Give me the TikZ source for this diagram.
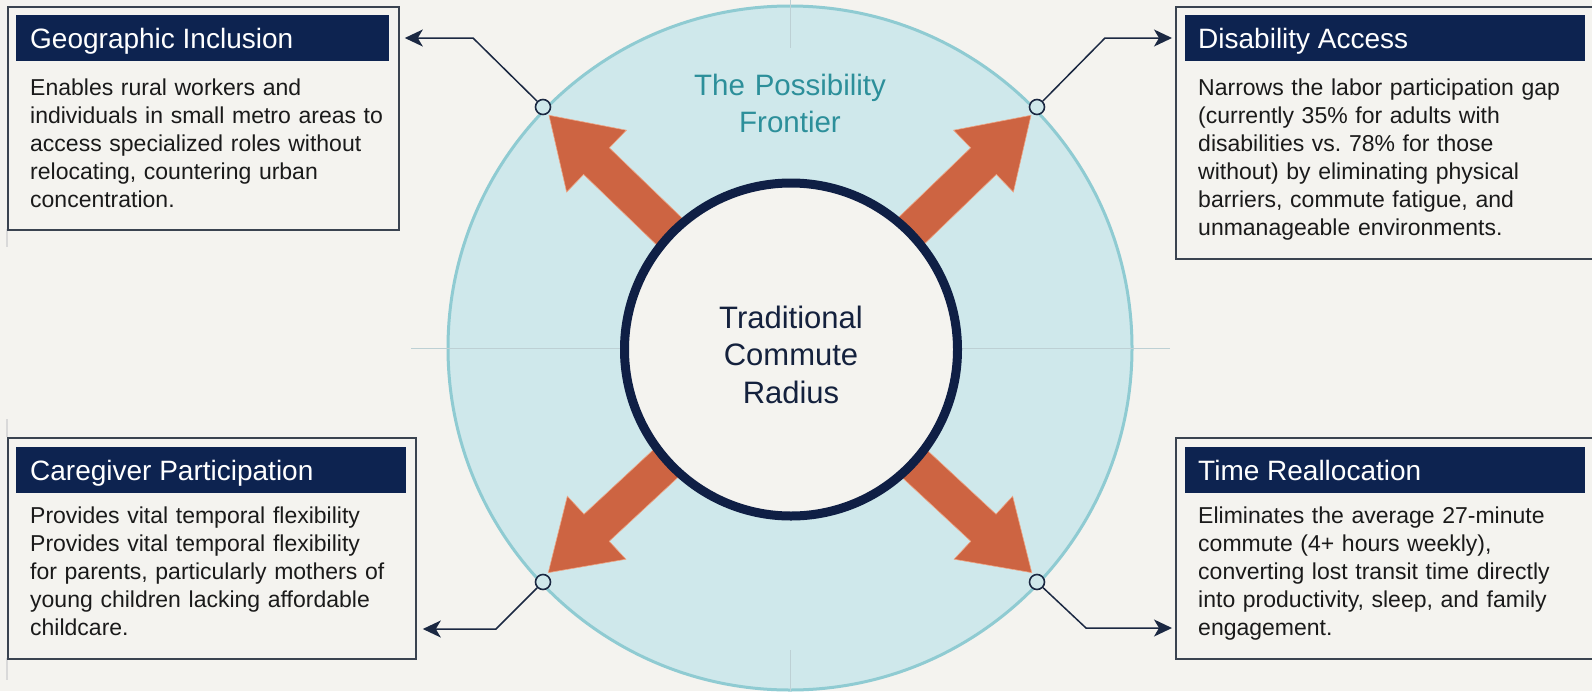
\documentclass[tikz,border=0pt]{standalone}
\usepackage{fontspec}
\setmainfont{Liberation Sans}
\usetikzlibrary{arrows.meta,calc}
\frenchspacing

\definecolor{bgpaper}{HTML}{F4F3EF}
\definecolor{frontierfill}{HTML}{CFE8EB}
\definecolor{frontierline}{HTML}{8FCBD2}
\definecolor{navy}{HTML}{0D2350}
\definecolor{ringnavy}{HTML}{0F1F45}
\definecolor{rust}{HTML}{CD6442}
\definecolor{rustedge}{HTML}{EDA585}
\definecolor{tealtext}{HTML}{2C8F9A}
\definecolor{framegray}{HTML}{3A4350}
\definecolor{guide}{HTML}{BDD0D4}
\definecolor{bodyink}{HTML}{1A1A1A}
\definecolor{linkink}{HTML}{1B2842}
\definecolor{coreink}{HTML}{14213D}

\tikzset{
  panel/.style={draw=framegray, line width=1.8pt, fill=bgpaper, inner sep=0pt, anchor=north west},
  headbar/.style={fill=navy, inner sep=0pt, anchor=north west},
  headtext/.style={text=white, font=\fontsize{28}{30}\selectfont, anchor=base west, inner sep=0pt},
  bodytext/.style={text=bodyink, font=\fontsize{23}{28}\selectfont, anchor=base west,
    inner sep=0pt, align=left, text width=385pt},
  link/.style={draw=linkink, line width=1.5pt, -{Stealth[length=18pt,width=17pt,inset=5pt]}},
  joint/.style={circle, draw=linkink, fill=frontierfill, line width=1.6pt,
    minimum size=15pt, inner sep=0pt},
  thrust/.style={fill=rust, draw=rustedge, line width=0.6pt, line join=miter},
  guideline/.style={draw=guide, line width=1pt},
  edgetick/.style={draw=black!15, line width=1.4pt},
}

\begin{document}
\begin{tikzpicture}[x=1pt,y=-1pt]
  % page
  \fill[bgpaper] (0,0) rectangle (1592,691);
  \useasboundingbox (0,0) rectangle (1592,691);

  % faint ticks continuing the left frame edges
  \draw[edgetick] (7,229) -- (7,247);
  \draw[edgetick] (7,419) -- (7,437);
  \draw[edgetick] (7,658) -- (7,680);

  % outer disc: the possibility frontier
  \node[circle, minimum size=684pt, inner sep=0pt, draw=frontierline, fill=frontierfill,
        line width=3pt] (frontier) at (790,348) {};

  % cross guides
  \draw[guideline] (411,348) -- (1170,348);
  \draw[guideline] (790,0) -- (790,48);
  \draw[guideline] (790,650) -- (790,691);

  % four outward block arrows
  \foreach \ang/\len in {136/335, 44/335, 222.9/330, 317.1/330} {
    \begin{scope}[shift={(790,348)}, rotate=\ang]
      \filldraw[thrust] (150,18.5) -- (\len-66,18.5) -- (\len-66,43) -- (\len,0)
        -- (\len-66,-43) -- (\len-66,-18.5) -- (150,-18.5) -- cycle;
    \end{scope}
  }

  % inner ring: traditional commute radius
  \node[circle, minimum size=333pt, inner sep=0pt, draw=ringnavy, fill=bgpaper,
        line width=9pt] (core) at (791,349.5) {};
  \node[anchor=base, inner sep=0pt, align=center, text width=240pt, text=coreink,
        font=\fontsize{31}{37.5}\selectfont] (coreLabel) at (791,328)
        {Traditional\\Commute\\Radius};

  % frontier title
  \node[anchor=base, inner sep=0pt, align=center, text width=260pt, text=tealtext,
        font=\fontsize{29.5}{37}\selectfont] (frontierLabel) at (790,95)
        {The Possibility\\Frontier};

  % junction dots on the frontier
  \node[joint] (dotTL) at (543,107) {};
  \node[joint] (dotTR) at (1037,107) {};
  \node[joint] (dotBL) at (543,582) {};
  \node[joint] (dotBR) at (1037,582) {};

  % panels
  \node[panel, minimum width=391pt, minimum height=223pt] (panelTL) at (7,6) {};
  \node[headbar, minimum width=373pt, minimum height=46pt] (barTL) at (16,15) {};
  \node[headtext] (headTL) at (30,48) {Geographic Inclusion};
  \node[bodytext] (bodyTL) at (30,95)
    {Enables rural workers and\\
     individuals in small metro areas to\\
     access specialized roles without\\
     relocating, countering urban\\
     concentration.};

  \node[panel, minimum width=420pt, minimum height=252pt] (panelTR) at (1175,6) {};
  \node[headbar, minimum width=400pt, minimum height=46pt] (barTR) at (1185,15) {};
  \node[headtext] (headTR) at (1198,48) {Disability Access};
  \node[bodytext] (bodyTR) at (1198,95)
    {Narrows the labor participation gap\\
     (currently 35\% for adults with\\
     disabilities vs. 78\% for those\\
     without) by eliminating physical\\
     barriers, commute fatigue, and\\
     unmanageable environments.};

  \node[panel, minimum width=408pt, minimum height=221pt] (panelBL) at (7,437) {};
  \node[headbar, minimum width=390pt, minimum height=46pt] (barBL) at (16,447) {};
  \node[headtext] (headBL) at (30,480) {Caregiver Participation};
  \node[bodytext] (bodyBL) at (30,523)
    {Provides vital temporal flexibility\\
     Provides vital temporal flexibility\\
     for parents, particularly mothers of\\
     young children lacking affordable\\
     childcare.};

  \node[panel, minimum width=420pt, minimum height=221pt] (panelBR) at (1175,437) {};
  \node[headbar, minimum width=400pt, minimum height=46pt] (barBR) at (1185,447) {};
  \node[headtext] (headBR) at (1198,480) {Time Reallocation};
  \node[bodytext] (bodyBR) at (1198,523)
    {Eliminates the average 27-minute\\
     commute (4+ hours weekly),\\
     converting lost transit time directly\\
     into productivity, sleep, and family\\
     engagement.};

  % connectors from the frontier to the panels
  \coordinate (bendTL) at (473,38);
  \coordinate (bendTR) at (1105,38);
  \coordinate (bendBL) at (496,629);
  \coordinate (bendBR) at (1086,628);
  \draw[link, shorten >=5pt] (dotTL) -- (bendTL) -- (bendTL -| panelTL.east);
  \draw[link, shorten >=3pt] (dotTR) -- (bendTR) -- (bendTR -| panelTR.west);
  \draw[link, shorten >=6pt] (dotBL) -- (bendBL) -- (bendBL -| panelBL.east);
  \draw[link, shorten >=3pt] (dotBR) -- (bendBR) -- (bendBR -| panelBR.west);
\end{tikzpicture}
\end{document}
